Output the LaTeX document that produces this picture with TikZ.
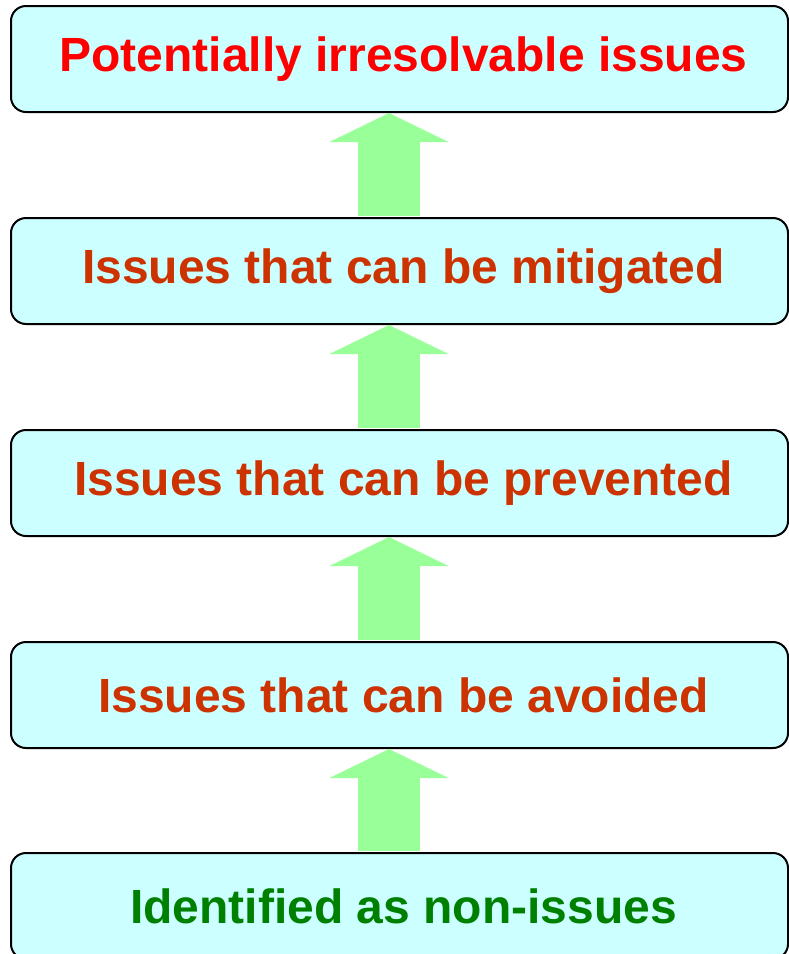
\documentclass[tikz,border=0pt]{standalone}
\usepackage{fontspec}
\setmainfont{Liberation Sans}
\usepackage{tikz}
\usetikzlibrary{arrows.meta}
\definecolor{boxcyan}{HTML}{CCFFFF}
\definecolor{arrowgreen}{HTML}{99FF99}
\definecolor{issuered}{HTML}{FF0000}
\definecolor{issuebrown}{HTML}{CC3300}
\definecolor{issuegreen}{HTML}{008000}

\begin{document}
\begin{tikzpicture}[x=1pt,y=-1pt]
\tikzstyle{every node}=[draw=black,line width=2pt,fill=boxcyan,rounded corners=15pt,minimum width=777pt,minimum height=106pt,inner sep=0pt,font=\fontsize{48}{52}\selectfont\bfseries];
\tikzstyle{uparrow}=[draw=arrowgreen,line width=62pt,shorten <=1pt,-{Triangle[width=119pt,length=29pt,line width=0pt]}];
\useasboundingbox (0,0) rectangle (789,954);
\node[text=issuered] (irresolvable) at (399.5,59) {\hspace*{8pt}Potentially irresolvable issues};
\node[text=issuebrown] (mitigated) at (399.5,271) {\hspace*{8pt}Issues that can be mitigated};
\node[text=issuebrown] (prevented) at (399.5,483) {\hspace*{8pt}Issues that can be prevented};
\node[text=issuebrown] (avoided) at (399.5,695) {\hspace*{8pt}Issues that can be avoided};
\node[text=issuegreen] (nonissues) at (399.5,906) {\hspace*{8pt}Identified as non-issues};
\draw[uparrow] ([xshift=-10.5pt]mitigated.north) -- ([xshift=-10.5pt]irresolvable.south);
\draw[uparrow] ([xshift=-10.5pt]prevented.north) -- ([xshift=-10.5pt]mitigated.south);
\draw[uparrow] ([xshift=-10.5pt]avoided.north) -- ([xshift=-10.5pt]prevented.south);
\draw[uparrow] ([xshift=-10.5pt]nonissues.north) -- ([xshift=-10.5pt]avoided.south);
\end{tikzpicture}
\end{document}
